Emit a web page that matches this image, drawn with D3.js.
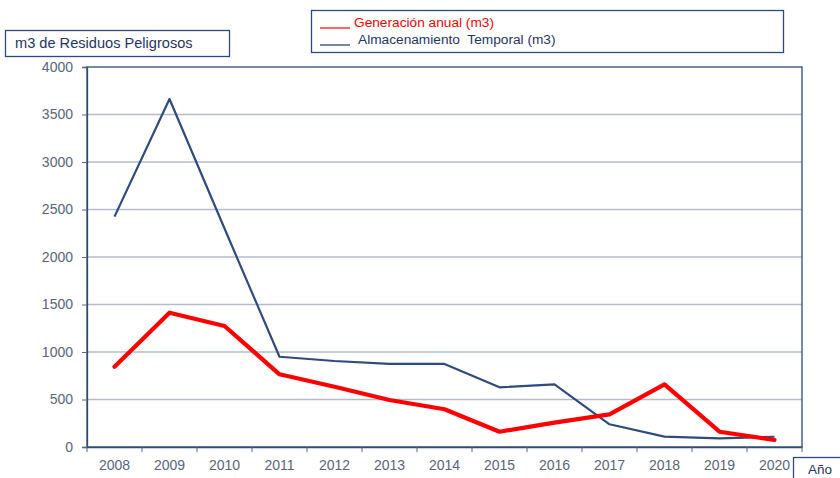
<!DOCTYPE html>
<html>
<head>
<meta charset="utf-8">
<script src="https://cdn.jsdelivr.net/npm/d3@7"></script>
<style>
body{margin:0;background:#fff;}
text{font-family:"Liberation Sans",Arial,sans-serif;}
</style>
</head>
<body>
<script>
// values
const years=["2008","2009","2010","2011","2012","2013","2014","2015","2016","2017","2018","2019","2020"];
const generacion=[845,1414,1274,765,635,495,397,161,256,344,660,161,74];
const almacenamiento=[2425,3663,2300,950,905,874,874,628,660,239,109,91,108];
const yTicks=[0,500,1000,1500,2000,2500,3000,3500,4000];

const W=840,H=478;
const mLeft=87,mRight=802,mTop=67,mBottom=447;
const navy="#2f4a7c",grid="#b4bccb",tickCol="#5b6478";

const svg=d3.select("body").append("svg").attr("width",W).attr("height",H);

const x=d3.scaleBand().domain(years).range([mLeft,mRight]);
const y=d3.scaleLinear().domain([0,4000]).range([mBottom,mTop]);

// gridlines
svg.append("g").selectAll("line").data(yTicks.slice(1,-1)).enter().append("line")
    .attr("x1",mLeft).attr("x2",mRight)
    .attr("y1",d=>y(d)).attr("y2",d=>y(d))
    .attr("stroke",grid).attr("stroke-width",1.3);

// frame
svg.append("rect").attr("x",mLeft).attr("y",mTop).attr("width",mRight-mLeft).attr("height",mBottom-mTop)
    .attr("fill","none").attr("stroke",navy).attr("stroke-width",1.3);

// y axis
const yAxis=svg.append("g").attr("transform","translate("+mLeft+",0)")
    .call(d3.axisLeft(y).tickValues(yTicks).tickSize(5).tickPadding(9).tickFormat(d3.format("d")));
yAxis.select(".domain").attr("stroke",navy).attr("stroke-width",1.3);
yAxis.selectAll(".tick line").attr("stroke",tickCol);
yAxis.selectAll("text").attr("fill",tickCol).style("font-size","14px");

// x axis
const xAxis=svg.append("g").attr("transform","translate(0,"+mBottom+")")
    .call(d3.axisBottom(x).tickSize(0).tickPadding(13));
xAxis.select(".domain").attr("stroke",navy).attr("stroke-width",1.3);
xAxis.selectAll("text").attr("fill",tickCol).style("font-size","14px");
svg.append("g").selectAll("line").data(years.concat(["end"])).enter().append("line")
    .attr("x1",(d,i)=>mLeft+i*x.bandwidth()).attr("x2",(d,i)=>mLeft+i*x.bandwidth())
    .attr("y1",mBottom).attr("y2",mBottom+5)
    .attr("stroke",tickCol).attr("stroke-width",1);

// lines
const line=d3.line().x((d,i)=>x(years[i])+x.bandwidth()/2).y(d=>y(d));
svg.append("path").datum(almacenamiento).attr("d",line)
    .attr("fill","none").attr("stroke",navy).attr("stroke-width",2.2).attr("stroke-linejoin","round");
svg.append("path").datum(generacion).attr("d",line)
    .attr("fill","none").attr("stroke","#ff0000").attr("stroke-width",4.2).attr("stroke-linejoin","round").attr("stroke-linecap","round");

// y label box
svg.append("rect").attr("x",5.5).attr("y",30.5).attr("width",224).attr("height",26)
    .attr("fill","#fff").attr("stroke",navy).attr("stroke-width",1.3);
svg.append("text").attr("x",15).attr("y",48).text("m3 de Residuos Peligrosos")
    .attr("fill","#1f3565").style("font-size","14.6px");

// legend
svg.append("rect").attr("x",311.5).attr("y",10.5).attr("width",472).attr("height",42)
    .attr("fill","#fff").attr("stroke",navy).attr("stroke-width",1.3);
const legend=[{name:"Generación anual (m3)",col:"#ff0000",tx:354},{name:"Almacenamiento  Temporal (m3)",col:"#1f3565",tx:358}];
const lg=svg.append("g").selectAll("g").data(legend).enter().append("g")
    .attr("transform",(d,i)=>"translate(0,"+(27+i*17)+")");
lg.append("line").attr("x1",320).attr("x2",350).attr("y1",1).attr("y2",1)
    .attr("stroke",d=>d.col).attr("stroke-width",1.2);
lg.append("text").attr("x",d=>d.tx).attr("y",0).text(d=>d.name)
    .attr("fill",d=>d.col).style("font-size","13.7px").style("white-space","pre");

// Año box
svg.append("rect").attr("x",793.5).attr("y",457.5).attr("width",60).attr("height",30)
    .attr("fill","#fff").attr("stroke",navy).attr("stroke-width",1.3);
svg.append("text").attr("x",808).attr("y",474).text("Año")
    .attr("fill","#1f3565").style("font-size","13.5px");
</script>
</body>
</html>
